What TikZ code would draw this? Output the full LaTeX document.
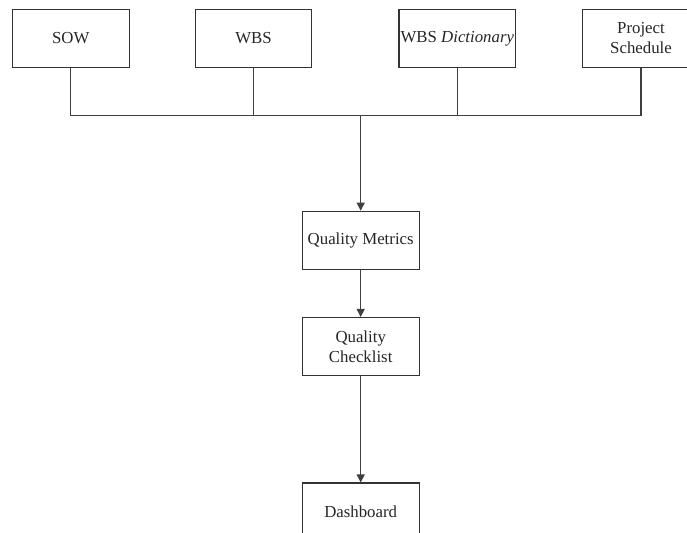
\documentclass[tikz,border=0pt]{standalone}
\usepackage{fontspec}
\setmainfont{Liberation Serif}
\usetikzlibrary{arrows.meta}
\begin{document}
\begin{tikzpicture}[x=0.75pt,y=-0.75pt,
  box/.style={draw=black!80,line width=0.8pt,fill=white,minimum width=87.5pt,minimum height=43.5pt,inner sep=1pt,align=center,font=\fontsize{12.6}{14.8}\selectfont,text=black!85},
  conn/.style={draw=black!75,line width=0.8pt},
  arr/.style={conn,-{Triangle[length=6pt,width=6pt]}}]
\clip (0,0) rectangle (687,533);
\fill[white] (0,0) rectangle (687,533);
\node[box] (sow) at (70.7,38.3) {SOW};
\node[box] (wbs) at (253.5,38.3) {WBS};
\node[box] (dict) at (457.3,38.3) {WBS \textit{Dictionary}};
\node[box] (ps) at (641,38.3) {Project\\Schedule};
\node[box] (qm) at (360.7,240.2) {Quality Metrics};
\node[box] (qc) at (360.7,346.5) {Quality\\Checklist};
\node[box] (db) at (360.7,512) {Dashboard};
\coordinate (bl) at (70.7,115.7);
\coordinate (br) at (641,115.7);
\coordinate (bm) at (360.7,115.7);
\draw[conn] (sow.south) -- (bl) -- (br) -- (ps.south);
\draw[conn] (wbs.south) -- (wbs.south |- bm);
\draw[conn] (dict.south) -- (dict.south |- bm);
\draw[arr] (bm) -- (qm.north);
\draw[arr] (qm.south) -- (qc.north);
\draw[arr] (qc.south) -- (db.north);
\end{tikzpicture}
\end{document}
